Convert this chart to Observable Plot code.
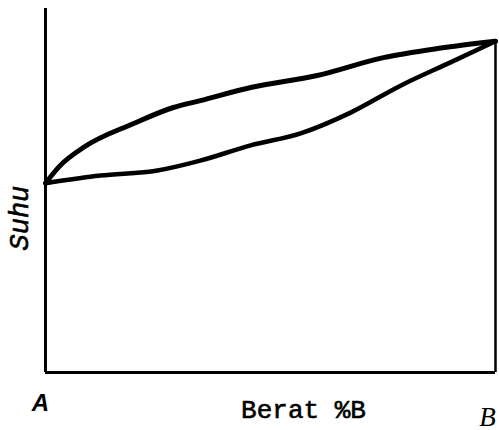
<!DOCTYPE html>
<html>
<head>
<meta charset="utf-8">
<script src="https://cdn.jsdelivr.net/npm/d3@7"></script>
<script src="https://cdn.jsdelivr.net/npm/@observablehq/plot@0.6"></script>
<style>
  html, body { margin: 0; padding: 0; background: #fff; }
</style>
</head>
<body>
<div id="chart"></div>
<script>
// Liquidus (upper curve) — % B vs temperature (arbitrary units)
const liquidusX = [0, 3.3, 8.4, 19.6, 28.4, 34.4, 45.6, 60.4, 75.1, 87.1, 100];
const liquidusT = [52, 56.9, 61.8, 68.4, 72.8, 74.7, 78.3, 81.6, 86.5, 89.0, 91];
// Solidus (lower curve)
const solidusX = [0, 12.2, 24.9, 34.4, 45.6, 56.7, 67.8, 78.9, 90, 100];
const solidusT = [52, 54.1, 55.5, 58.2, 62.4, 65.7, 71.4, 78.8, 85.2, 91];
// End labels
const endX = [0, 100];
const endLabels = ["A", "B"];
const meltB = 91;

const liquidus = liquidusX.map((x, i) => ({x, t: liquidusT[i]}));
const solidus = solidusX.map((x, i) => ({x, t: solidusT[i]}));

const chart = Plot.plot({
  width: 499,
  height: 430,
  marginLeft: 45,
  marginRight: 4,
  marginTop: 8,
  marginBottom: 58,
  x: {domain: [0, 100], axis: null},
  y: {domain: [0, 100], axis: null},
  marks: [
    Plot.ruleX([0], {y1: 0, y2: 100, stroke: "#000", strokeWidth: 3}),
    Plot.ruleY([0], {x1: 0, x2: 100, stroke: "#000", strokeWidth: 3}),
    Plot.ruleX([100], {y1: 0, y2: meltB, stroke: "#000", strokeWidth: 2.5}),
    Plot.line(liquidus, {x: "x", y: "t", stroke: "#000", strokeWidth: 5, curve: "monotone-x"}),
    Plot.line(solidus, {x: "x", y: "t", stroke: "#000", strokeWidth: 4.5, curve: "monotone-x"}),
    Plot.text([endLabels[0]], {
      x: endX[0], y: 0, text: d => d, dx: -5, dy: 38, lineAnchor: "bottom",
      fontSize: 24, fontStyle: "italic", fontWeight: "bold",
      fontFamily: "Liberation Sans, Arial, sans-serif", fill: "#000"
    }),
    Plot.text([endLabels[1]], {
      x: endX[1], y: 0, text: d => d, dx: -8, dy: 53, lineAnchor: "bottom",
      fontSize: 27, fontStyle: "italic",
      fontFamily: "Liberation Serif, Times New Roman, serif", fill: "#000"
    }),
    Plot.text(["Berat %B"], {
      frameAnchor: "bottom", dx: 33, dy: 45, lineAnchor: "bottom", text: d => d,
      fontSize: 26, fontFamily: "Liberation Mono, Courier New, monospace", fill: "#000",
      stroke: "#000", strokeWidth: 0.6
    }),
    Plot.text(["Suhu"], {
      frameAnchor: "left", dx: -26, dy: 60, rotate: -90, text: d => d,
      fontSize: 27, fontStyle: "italic",
      fontFamily: "Liberation Mono, Courier New, monospace", fill: "#000",
      stroke: "#000", strokeWidth: 0.6
    })
  ]
});
document.getElementById("chart").appendChild(chart);
</script>
</body>
</html>
